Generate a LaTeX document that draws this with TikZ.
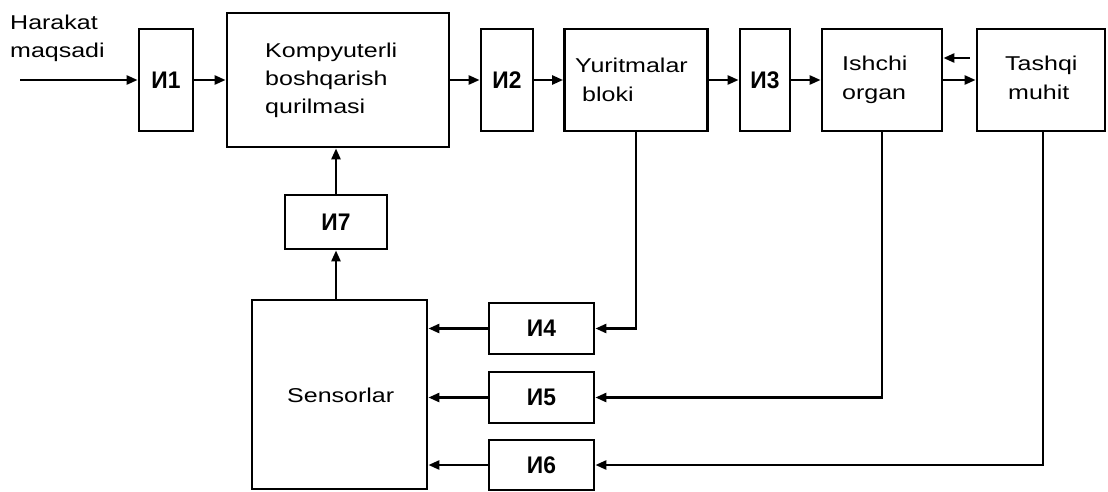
\documentclass[tikz,border=0pt]{standalone}
\usepackage{fontspec}
\setmainfont{Liberation Sans}[FakeStretch=1.25]
\newfontfamily\ilabfont{Liberation Sans}[FakeStretch=0.95]
\usetikzlibrary{arrows.meta,calc}
\begin{document}
\begin{tikzpicture}[x=1pt,y=-1pt,
  box/.style={draw, line width=2.8pt, inner sep=0pt},
  ibox/.style={box, font=\ilabfont\bfseries\fontsize{24}{26}\selectfont},
  txt/.style={inner sep=0pt, anchor=north west, align=left, font=\fontsize{20}{28}\selectfont},
  txtb/.style={txt, font=\fontsize{20}{29.5}\selectfont},
  arr/.style={line width=2.5pt, -{Triangle[length=11pt,width=9pt]}},
]
\useasboundingbox (0,0) rectangle (1108,492);

% top row
\node[ibox, minimum width=54pt, minimum height=102pt] (I1) at (166,80) {И1};
\node[box, minimum width=222pt, minimum height=134pt] (K) at (338,80) {};
\node[ibox, minimum width=52pt, minimum height=102pt] (I2) at (507,80) {И2};
\node[box, minimum width=143pt, minimum height=102pt] (Y) at (636,80) {};
\node[ibox, minimum width=50pt, minimum height=102pt] (I3) at (765,80) {И3};
\node[box, minimum width=120pt, minimum height=102pt] (Ish) at (882,80) {};
\node[box, minimum width=128pt, minimum height=102pt] (T) at (1041,80) {};

% lower part
\node[ibox, minimum width=102pt, minimum height=54pt] (I7) at (336,222) {И7};
\node[box, minimum width=175pt, minimum height=189pt] (S) at (339.5,394.5) {};
\node[ibox, minimum width=105pt, minimum height=51pt] (I4) at (541.5,328.5) {И4};
\node[ibox, minimum width=105pt, minimum height=51pt] (I5) at (541.5,397.5) {И5};
\node[ibox, minimum width=105pt, minimum height=50pt] (I6) at (541.5,465) {И6};

% texts
\node[txt] (tH) at (10,14.5) {Harakat\\maqsadi};
\node[txt] (tK) at (265,42.5) {Kompyuterli\\boshqarish\\qurilmasi};
\node[txtb] (tY) at (575,57.5) {Yuritmalar\\\hspace*{7pt}bloki};
\node[txtb] (tIs) at (842,55.5) {Ishchi\\organ};
\node[txtb] (tT) at (1005,55.5) {Tashqi\\\hspace*{3pt}muhit};
\node[txt] (tS) at (287,387.5) {Sensorlar};

% connectors
\coordinate (in) at (20,80);
\draw[arr] (in) -- (I1.west);
\draw[arr] (I1.east) -- (K.west);
\draw[arr] (K.east) -- (I2.west);
\draw[arr] (I2.east) -- (Y.west);
\draw[arr] (Y.east) -- (I3.west);
\draw[arr] (I3.east) -- (Ish.west);
\draw[arr] (Ish.east) -- (T.west);
\draw[arr] ([shift={(-6,-22)}]T.west) -- ([shift={(0,-22)}]Ish.east);

\draw[arr] (I7.north) -- (I7.north |- K.south);
\draw[arr] (I7.south |- S.north) -- (I7.south);

\draw[arr] (Y.south) |- (I4.east);
\draw[arr] (Ish.south) |- (I5.east);
\draw[arr] ([xshift=2pt]T.south) |- (I6.east);

\draw[arr] (I4.west) -- (I4.west -| S.east);
\draw[arr] (I5.west) -- (I5.west -| S.east);
\draw[arr] (I6.west) -- (I6.west -| S.east);
\end{tikzpicture}
\end{document}
